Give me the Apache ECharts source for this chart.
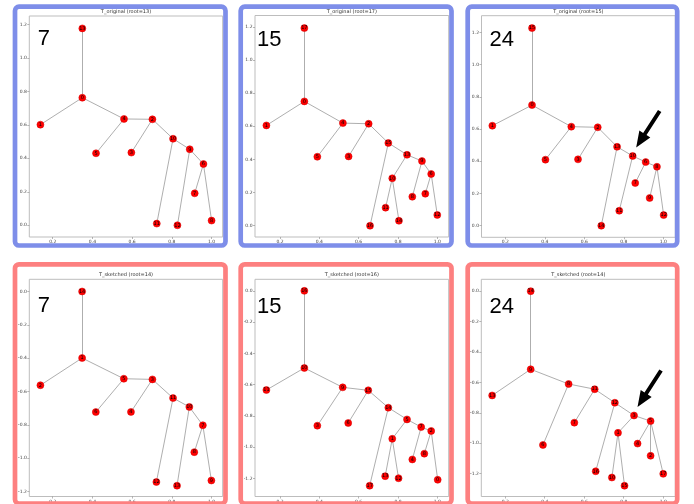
<!DOCTYPE html>
<html>
<head>
<meta charset="utf-8">
<script src="https://cdn.jsdelivr.net/npm/echarts@6/dist/echarts.min.js"></script>
<style>
  html, body { margin: 0; padding: 0; background: #ffffff; }
  #chart { width: 694px; height: 504px; }
</style>
</head>
<body>
<div id="chart"></div>
<script>
// ---- tick values shared by the panels ----
const xTickValues = [0.2, 0.4, 0.6, 0.8, 1.0];
const origYTickValues = [0.0, 0.2, 0.4, 0.6, 0.8, 1.0, 1.2];
const sketchYTickValues = [0.0, -0.2, -0.4, -0.6, -0.8, -1.0, -1.2];

// ---- T_original, 7 ----
const orig7Nodes = ['13', '0', '1', '4', '5', '2', '3', '10', '9', '6', '7', '8', '11', '12'];
const orig7X = [0.349, 0.349, 0.138, 0.559, 0.418, 0.702, 0.596, 0.806, 0.890, 0.959, 0.915, 1.000, 0.724, 0.828];
const orig7Y = [1.176, 0.762, 0.601, 0.635, 0.430, 0.633, 0.434, 0.517, 0.454, 0.366, 0.191, 0.028, 0.010, 0.000];
const orig7Edges = [['13','0'],['0','1'],['0','4'],['4','5'],['4','2'],['2','3'],['2','10'],['10','11'],['10','9'],['9','12'],['9','6'],['6','7'],['6','8']];

// ---- T_original, 15 ----
const orig15Nodes = ['17', '0', '1', '4', '5', '2', '3', '15', '13', '9', '6', '7', '12', '8', '10', '11', '14', '16'];
const orig15X = [0.324, 0.324, 0.131, 0.520, 0.390, 0.651, 0.549, 0.751, 0.846, 0.922, 0.969, 0.939, 1.000, 0.873, 0.771, 0.737, 0.805, 0.658];
const orig15Y = [1.192, 0.750, 0.605, 0.619, 0.416, 0.615, 0.418, 0.499, 0.428, 0.390, 0.312, 0.193, 0.065, 0.175, 0.286, 0.109, 0.030, 0.000];
const orig15Edges = [['17','0'],['0','1'],['0','4'],['4','5'],['4','2'],['2','3'],['2','15'],['15','16'],['15','13'],['13','10'],['10','11'],['10','14'],['13','9'],['9','8'],['9','6'],['6','7'],['6','12']];

// ---- T_original, 24 ----
const orig24Nodes = ['15', '0', '1', '4', '5', '2', '3', '13', '10', '6', '8', '7', '9', '12', '11', '14'];
const orig24X = [0.335, 0.335, 0.134, 0.534, 0.403, 0.668, 0.568, 0.766, 0.845, 0.911, 0.968, 0.858, 0.931, 1.002, 0.777, 0.686];
const orig24Y = [1.227, 0.749, 0.621, 0.615, 0.410, 0.611, 0.412, 0.490, 0.433, 0.395, 0.366, 0.265, 0.172, 0.066, 0.093, 0.000];
const orig24Edges = [['15','0'],['0','1'],['0','4'],['4','5'],['4','2'],['2','3'],['2','13'],['13','14'],['13','10'],['10','11'],['10','6'],['6','7'],['6','8'],['8','9'],['8','12']];

// ---- T_sketched, 7 ----
const sketch7Nodes = ['14', '1', '2', '5', '6', '3', '4', '11', '10', '7', '8', '9', '12', '13'];
const sketch7X = [0.348, 0.348, 0.138, 0.558, 0.417, 0.702, 0.594, 0.806, 0.888, 0.956, 0.913, 0.999, 0.722, 0.826];
const sketch7Y = [0.000, -0.399, -0.562, -0.523, -0.723, -0.527, -0.722, -0.639, -0.692, -0.802, -0.963, -1.133, -1.142, -1.164];
const sketch7Edges = [['14','1'],['1','2'],['1','5'],['5','6'],['5','3'],['3','4'],['3','11'],['11','12'],['11','10'],['10','13'],['10','7'],['7','8'],['7','9']];

// ---- T_sketched, 15 ----
const sketch15Nodes = ['16', '10', '11', '9', '3', '15', '6', '14', '5', '7', '2', '1', '4', '8', '13', '12', '17', '0'];
const sketch15X = [0.324, 0.324, 0.131, 0.519, 0.390, 0.649, 0.547, 0.751, 0.846, 0.918, 0.969, 0.771, 0.873, 0.934, 0.735, 0.803, 0.656, 1.002];
const sketch15Y = [0.000, -0.493, -0.634, -0.617, -0.862, -0.636, -0.845, -0.747, -0.822, -0.871, -0.896, -0.946, -1.078, -1.041, -1.185, -1.198, -1.246, -1.208];
const sketch15Edges = [['16','10'],['10','11'],['10','9'],['9','3'],['9','15'],['15','6'],['15','14'],['14','17'],['14','5'],['5','1'],['1','13'],['1','12'],['5','7'],['7','4'],['7','2'],['2','8'],['2','0']];

// ---- T_sketched, 24 ----
const sketch24Nodes = ['14', '9', '13', '8', '6', '11', '7', '12', '3', '5', '1', '4', '2', '17', '16', '10', '15'];
const sketch24X = [0.329, 0.329, 0.134, 0.521, 0.391, 0.653, 0.550, 0.755, 0.852, 0.936, 0.771, 0.870, 0.936, 1.000, 0.658, 0.740, 0.804];
const sketch24Y = [0.000, -0.514, -0.686, -0.611, -1.012, -0.645, -0.865, -0.734, -0.818, -0.855, -0.932, -1.003, -1.083, -1.202, -1.185, -1.226, -1.280];
const sketch24Edges = [['14','9'],['9','13'],['9','8'],['8','6'],['8','11'],['11','7'],['11','12'],['12','16'],['12','3'],['3','1'],['1','10'],['1','15'],['3','5'],['5','4'],['5','2'],['5','17']];

const panelTitles = ['T_original (root=13)', 'T_original (root=17)', 'T_original (root=15)',
                     'T_sketched (root=14)', 'T_sketched (root=16)', 'T_sketched (root=14)'];
const panelTags = ['7', '15', '24', '7', '15', '24'];
const markedNodes = [null, null, '10', null, null, '3'];

const trees = [
  { nodes: orig7Nodes, x: orig7X, y: orig7Y, edges: orig7Edges, yTicks: origYTickValues },
  { nodes: orig15Nodes, x: orig15X, y: orig15Y, edges: orig15Edges, yTicks: origYTickValues },
  { nodes: orig24Nodes, x: orig24X, y: orig24Y, edges: orig24Edges, yTicks: origYTickValues },
  { nodes: sketch7Nodes, x: sketch7X, y: sketch7Y, edges: sketch7Edges, yTicks: sketchYTickValues },
  { nodes: sketch15Nodes, x: sketch15X, y: sketch15Y, edges: sketch15Edges, yTicks: sketchYTickValues },
  { nodes: sketch24Nodes, x: sketch24X, y: sketch24Y, edges: sketch24Edges, yTicks: sketchYTickValues }
];

// ---- page layout: plot boxes, axis extents, frames ----
const BLUE = '#7e8ee9';
const RED = '#fd8080';
const layout = [
  { grid: [29.3, 16, 193.4, 221],    xr: [0.082, 1.056], yr: [-0.070, 1.250], frame: [15, 6.7, 210.5, 238.8],     color: BLUE, tag: [37.7, 46],    titleY: 12.3 },
  { grid: [255, 15.5, 193.7, 221.5], xr: [0.073, 1.058], yr: [-0.068, 1.268], frame: [240.7, 6.7, 210.8, 238.8],  color: BLUE, tag: [257, 46.7],   titleY: 12.3 },
  { grid: [481.5, 15.7, 193.8, 221.6], xr: [0.079, 1.061], yr: [-0.072, 1.304], frame: [467.7, 6.7, 209.5, 238.8], color: BLUE, tag: [489.6, 46.7], titleY: 12.3 },
  { grid: [29.3, 279.3, 193.4, 220.7], xr: [0.082, 1.056], yr: [-1.229, 0.073], frame: [15, 264.3, 210.5, 239.2],  color: RED, tag: [37.7, 313.3], titleY: 275.7 },
  { grid: [255, 279.3, 193.7, 220.7],  xr: [0.073, 1.058], yr: [-1.315, 0.074], frame: [240.7, 264.3, 210.8, 239.2], color: RED, tag: [257, 314],  titleY: 275.7 },
  { grid: [481.3, 279.3, 194, 220.7],  xr: [0.079, 1.061], yr: [-1.351, 0.078], frame: [467.7, 264.3, 209.5, 239.2], color: RED, tag: [489.6, 314], titleY: 275.7 }
];

const tickFont = 'DejaVu Sans';
const grids = [], xAxes = [], yAxes = [], series = [], titles = [];

layout.forEach((L, i) => {
  const t = trees[i];
  grids.push({
    left: L.grid[0], top: L.grid[1], width: L.grid[2], height: L.grid[3],
    show: true, borderColor: '#bdbdbd', borderWidth: 1, backgroundColor: '#ffffff'
  });
  xAxes.push({
    type: 'value', gridIndex: i, min: L.xr[0], max: L.xr[1], position: 'bottom',
    axisLine: { show: false, onZero: false }, splitLine: { show: false },
    axisTick: { show: true, length: 2, lineStyle: { color: '#888', width: 0.6 }, customValues: xTickValues },
    axisLabel: { fontSize: 4.5, color: '#444', margin: 2.5, fontFamily: tickFont, customValues: xTickValues,
                 formatter: v => v.toFixed(1) }
  });
  yAxes.push({
    type: 'value', gridIndex: i, min: L.yr[0], max: L.yr[1], position: 'left',
    axisLine: { show: false, onZero: false }, splitLine: { show: false },
    axisTick: { show: true, length: 2, lineStyle: { color: '#888', width: 0.6 }, customValues: t.yTicks },
    axisLabel: { fontSize: 4.5, color: '#444', margin: 2.5, fontFamily: tickFont, customValues: t.yTicks,
                 formatter: v => v.toFixed(1) }
  });
  titles.push({
    text: panelTitles[i],
    left: L.grid[0] + L.grid[2] / 2, top: L.titleY - 3, textAlign: 'center',
    padding: 0,
    textStyle: { fontSize: 5, fontWeight: 'normal', color: '#333', fontFamily: tickFont }
  });
  series.push({
    type: 'graph', coordinateSystem: 'cartesian2d', xAxisIndex: i, yAxisIndex: i,
    symbol: 'circle', symbolSize: 7,
    itemStyle: { color: '#ff0000', borderColor: '#d40000', borderWidth: 0.5 },
    lineStyle: { color: '#999999', width: 0.8, opacity: 1 },
    label: { show: true, position: 'inside', fontSize: 5, color: '#000', fontFamily: tickFont,
             formatter: '{b}' },
    labelLayout: { hideOverlap: false },
    emphasis: { disabled: true },
    data: t.nodes.map((n, k) => ({ name: n, value: [t.x[k], t.y[k]] })),
    links: t.edges.map(e => ({ source: e[0], target: e[1] })),
    animation: false
  });
});

const chart = echarts.init(document.getElementById('chart'), null, { renderer: 'canvas' });
chart.setOption({
  animation: false,
  backgroundColor: '#ffffff',
  title: titles,
  grid: grids,
  xAxis: xAxes,
  yAxis: yAxes,
  series: series
});

// arrow shape pointing from tail to tip
function arrowPolygon(tip, tail, shaftW, headL, headW) {
  const dx = tip[0] - tail[0], dy = tip[1] - tail[1];
  const len = Math.hypot(dx, dy);
  const ux = dx / len, uy = dy / len, nx = -uy, ny = ux;
  const bx = tip[0] - ux * headL, by = tip[1] - uy * headL;
  return [
    [tail[0] + nx * shaftW / 2, tail[1] + ny * shaftW / 2],
    [bx + nx * shaftW / 2, by + ny * shaftW / 2],
    [bx + nx * headW / 2, by + ny * headW / 2],
    tip,
    [bx - nx * headW / 2, by - ny * headW / 2],
    [bx - nx * shaftW / 2, by - ny * shaftW / 2],
    [tail[0] - nx * shaftW / 2, tail[1] - ny * shaftW / 2]
  ];
}

const graphics = [];
layout.forEach((L, i) => {
  graphics.push({
    type: 'rect', z: 100,
    shape: { x: L.frame[0], y: L.frame[1], width: L.frame[2], height: L.frame[3], r: 4 },
    style: { fill: 'none', stroke: L.color, lineWidth: 4.7 }
  });
  graphics.push({
    type: 'text', z: 100,
    style: { text: panelTags[i], x: L.tag[0], y: L.tag[1] - 7, font: '22px "Liberation Sans", Arial, sans-serif',
             fill: '#000', textAlign: 'left', textVerticalAlign: 'middle' }
  });
  const mark = markedNodes[i];
  if (mark !== null) {
    const t = trees[i];
    const k = t.nodes.indexOf(mark);
    const p = chart.convertToPixel({ gridIndex: i }, [t.x[k], t.y[k]]);
    const tip = [p[0] + 3.5, p[1] - 8.5];
    const tail = [p[0] + 27, p[1] - 45];
    graphics.push({
      type: 'polygon', z: 100,
      shape: { points: arrowPolygon(tip, tail, 4, 16, 13) },
      style: { fill: '#000' }
    });
  }
});
chart.setOption({ graphic: graphics });
</script>
</body>
</html>
